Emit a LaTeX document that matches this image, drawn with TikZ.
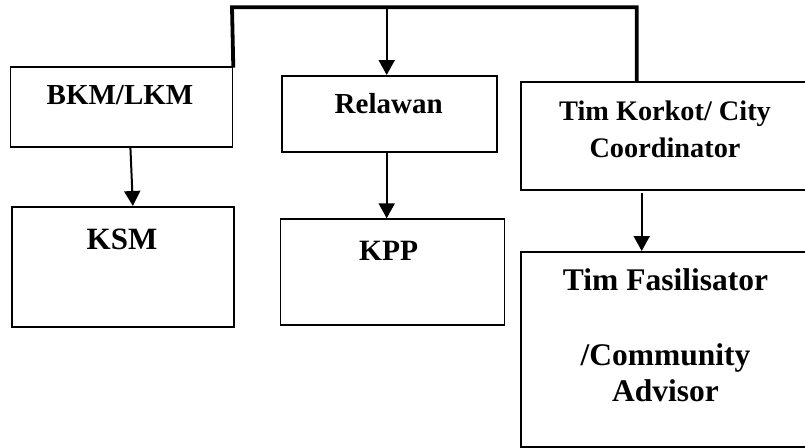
\documentclass[tikz,border=0pt]{standalone}
\usepackage{fontspec}
\setmainfont{Liberation Serif}
\usetikzlibrary{arrows.meta}
\begin{document}
\begin{tikzpicture}[x=1pt,y=-1pt,
  box/.style={draw=black,line width=1.8pt,rectangle,inner sep=0pt,anchor=north west},
  lbl/.style={anchor=base,inner sep=0pt,font=\bfseries},
  bus/.style={line width=3.8pt,line cap=butt},
  arr/.style={line width=2pt,-{Triangle[width=16pt,length=15pt]}}]
\useasboundingbox (0,0) rectangle (805,447);
\clip (0,0) rectangle (805,447);

% boxes
\node[box,minimum width=222pt,minimum height=80pt] (bkm) at (9.5,65.7) {};
\node[box,minimum width=222pt,minimum height=120pt] (ksm) at (11,206) {};
\node[box,minimum width=215pt,minimum height=76pt] (rel) at (281,75) {};
\node[box,minimum width=224pt,minimum height=106pt] (kpp) at (279.5,218.3) {};
\node[box,minimum width=290pt,minimum height=108pt] (kor) at (520,81) {};
\node[box,minimum width=290pt,minimum height=195pt] (fas) at (520,251) {};

% labels
\node[lbl,font=\bfseries\fontsize{29}{34}\selectfont] (tbkm) at (120,104) {BKM/LKM};
\node[lbl,font=\bfseries\fontsize{31}{36}\selectfont] (tksm) at (122,249) {KSM};
\node[lbl,font=\bfseries\fontsize{29}{34}\selectfont] (trel) at (388.7,113.3) {Relawan};
\node[lbl,font=\bfseries\fontsize{29.5}{34}\selectfont] (tkpp) at (388.7,260) {KPP};
\node[lbl,font=\bfseries\fontsize{28.3}{34}\selectfont] (tkor1) at (665,120) {Tim Korkot/ City};
\node[lbl,font=\bfseries\fontsize{28.3}{34}\selectfont] (tkor2) at (665,157) {Coordinator};
\node[lbl,font=\bfseries\fontsize{31.5}{36}\selectfont] (tfas1) at (665.5,290.7) {Tim Fasilisator};
\node[lbl,font=\bfseries\fontsize{31.5}{36}\selectfont] (tfas2) at (665.5,365) {/Community};
\node[lbl,font=\bfseries\fontsize{31.5}{36}\selectfont] (tfas3) at (665.5,401.7) {Advisor};

% top bus line
\coordinate (busL) at (232,7.3);
\coordinate (busM) at (386.7,7.3);
\coordinate (busR) at (636.7,7.3);
\draw[bus] ([yshift=-2pt]bkm.north east) -- (busL) -- (busR) -- (busR |- kor.north);

% arrows
\draw[arr] (busM) -- (busM |- rel.north);
\draw[arr] ([xshift=9pt]bkm.south) -- ([xshift=10pt]ksm.north);
\draw[arr] (busM |- rel.south) -- (busM |- kpp.north);
\draw[arr] ([yshift=-2.5pt]kor.south -| 641.7,0) -- (641.7,251);
\end{tikzpicture}
\end{document}
